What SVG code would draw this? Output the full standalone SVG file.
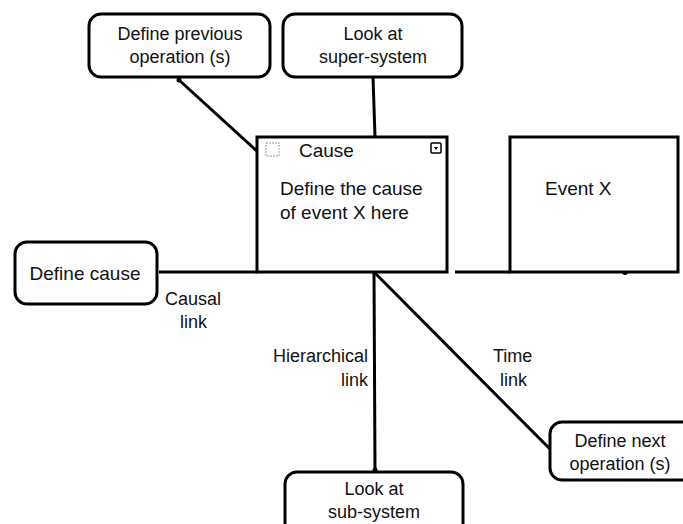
<svg xmlns="http://www.w3.org/2000/svg" width="683" height="524" viewBox="0 0 683 524">
<style>
.n{fill:#fff;stroke:#000;stroke-width:3}
.t{font-family:"Liberation Sans",Arial,sans-serif;font-size:18px;fill:#111}
.b{font-size:19px}
.c{text-anchor:middle}
.l{stroke:#000;stroke-width:3;fill:none}
</style>
<rect width="683" height="524" fill="#fff"/>
<g id="connectors">
<line class="l" x1="179" y1="80" x2="258" y2="152"/>
<line class="l" x1="373" y1="77" x2="375" y2="137"/>
<line class="l" x1="159" y1="272" x2="257" y2="272"/>
<line class="l" x1="455" y1="272" x2="510" y2="272"/>
<line class="l" x1="374" y1="272" x2="375" y2="470"/>
<line class="l" x1="374" y1="272" x2="550" y2="449"/>
<circle cx="179" cy="80" r="2.5"/>
<circle cx="374" cy="272" r="2.5"/>
<circle cx="375" cy="470" r="2.5"/>
<circle cx="625" cy="272" r="3"/>
<text class="t" x="165" y="305">Causal</text>
<text class="t" x="180" y="328">link</text>
<text class="t" x="368" y="362" text-anchor="end">Hierarchical</text>
<text class="t" x="368" y="386" text-anchor="end">link</text>
<text class="t" x="493" y="362">Time</text>
<text class="t" x="500" y="386">link</text>
</g>
<g id="prev">
<rect class="n" x="89" y="14" width="181" height="63" rx="12"/>
<text class="t c" x="180" y="40">Define previous</text>
<text class="t c" x="180" y="63">operation (s)</text>
</g>
<g id="super">
<rect class="n" x="283" y="14" width="179" height="63" rx="12"/>
<text class="t c" x="373" y="40">Look at</text>
<text class="t c" x="373" y="63">super-system</text>
</g>
<g id="cause">
<rect class="n" x="257" y="137" width="190" height="135"/>
<rect x="266" y="143" width="13" height="13" fill="none" stroke="#999" stroke-width="1" stroke-dasharray="2,1"/>
<rect x="431" y="143" width="10" height="10" fill="none" stroke="#000" stroke-width="1.5" rx="1"/>
<path d="M434 147 L436 150 L438 147 Z" fill="#000"/>
<text class="t b" x="299" y="157">Cause</text>
<text class="t b" x="280" y="195">Define the cause</text>
<text class="t b" x="280" y="219">of event X here</text>
</g>
<g id="eventx">
<rect class="n" x="510" y="137" width="168" height="135"/>
<text class="t b" x="545" y="195">Event X</text>
</g>
<g id="definecause">
<rect class="n" x="15" y="242" width="142" height="62" rx="12"/>
<text class="t b" x="85" y="280" text-anchor="middle">Define cause</text>
</g>
<g id="sub">
<rect class="n" x="285" y="472" width="178" height="70" rx="12"/>
<text class="t c" x="374" y="495">Look at</text>
<text class="t c" x="374" y="518">sub-system</text>
</g>
<g id="next">
<rect class="n" x="550" y="422" width="145" height="58" rx="12"/>
<text class="t c" x="620" y="447">Define next</text>
<text class="t c" x="620" y="470">operation (s)</text>
</g>
</svg>
